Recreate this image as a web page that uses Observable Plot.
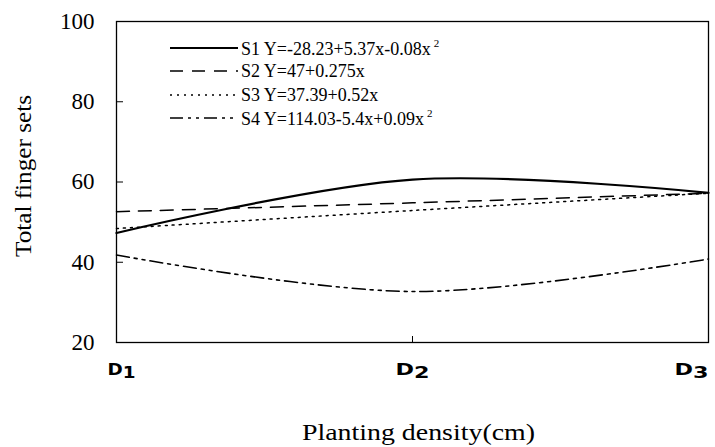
<!DOCTYPE html>
<html><head><meta charset="utf-8">
<script src="https://cdn.jsdelivr.net/npm/d3@7"></script>
<script src="https://cdn.jsdelivr.net/npm/@observablehq/plot@0.6"></script>
<style>
body{margin:0;background:#fff;}
#wrap{position:relative;width:715px;height:447px;}
#legend{position:absolute;left:170px;top:36px;font-family:"Liberation Serif";font-size:18px;color:#000;line-height:1;}
.row{height:23.5px;display:flex;align-items:center;white-space:nowrap;}
.row svg{width:70px;height:10px;margin-right:1px;}
.row sup{font-size:11px;vertical-align:8px;margin-left:3px;}
</style></head><body><div id="wrap"><div id="legend"></div></div>
<script>
const densities = ["D1", "D2", "D3"];
const seriesNames = ["S1", "S2", "S3", "S4"];
const s1 = [47.3, 60.6, 57.3];
const s2 = [52.6, 54.8, 57.2];
const s3 = [48.4, 52.9, 57.2];
const s4 = [41.8, 32.7, 40.8];
const eqMain = ["Y=-28.23+5.37x-0.08x", "Y=47+0.275x", "Y=37.39+0.52x", "Y=114.03-5.4x+0.09x"];
const eqSup = ["2", "", "", "2"];
const yTicks = [20, 40, 60, 80, 100];
const dashes = [null, "13,9", "2,5", "13,5,3,5,3,5"];
const widths = [2.2, 1.5, 1.5, 1.6];

const values = [s1, s2, s3, s4];
const rows = seriesNames.flatMap((s, i) => densities.map((d, j) => ({series: s, density: d, value: values[i][j]})));

const chart = Plot.plot({
  width: 715, height: 447,
  marginLeft: 116, marginRight: 7, marginTop: 21, marginBottom: 105,
  style: {fontFamily: "Liberation Serif", fontSize: "23px", background: "#fff", color: "#000"},
  x: {type: "point", domain: densities, padding: 0},
  y: {domain: [20, 100]},
  marks: [
    Plot.frame({stroke: "#000", strokeWidth: 1.3}),
    Plot.axisY({ticks: yTicks, tickSize: -7, tickPadding: 29, fontSize: 23, label: "Total finger sets", labelAnchor: "center", labelArrow: "none", labelOffset: 103}),
    Plot.axisX({tickSize: -6, tickPadding: 27, fontSize: 23, label: "Planting density(cm)", labelAnchor: "center", labelArrow: "none", labelOffset: 97}),
    ...seriesNames.map((s, i) => Plot.line(rows.filter(r => r.series === s), {
      x: "density", y: "value", curve: "catmull-rom", stroke: "#000",
      strokeWidth: widths[i], strokeDasharray: dashes[i]
    }))
  ]
});
document.getElementById("wrap").prepend(chart);

const svgSel = d3.select(chart);
svgSel.selectAll('g[aria-label="y-axis tick label"] text')
  .style("font-family", '"Liberation Serif", serif').style("font-size", "23px");
svgSel.selectAll('g[aria-label="y-axis label"] text')
  .style("font-family", '"Liberation Serif", serif').style("font-size", "24px")
  .attr("dx", 6).attr("textLength", 162).attr("lengthAdjust", "spacingAndGlyphs");
svgSel.selectAll('g[aria-label="x-axis label"] text')
  .style("font-family", '"Liberation Serif", serif').style("font-size", "24px")
  .attr("dx", 6).attr("textLength", 233).attr("lengthAdjust", "spacingAndGlyphs");

// x tick labels: anchored at the edges, wide squarish glyphs, lowered digit
const anchors = ["start", "middle", "end"];
const shifts = [-9, 0, 0];
svgSel.selectAll('g[aria-label="x-axis tick label"] text').each(function(d, i) {
  const t = d3.select(this);
  const txt = t.text();
  t.text(txt[0]).attr("text-anchor", anchors[i]).attr("dx", shifts[i])
    .style("font-family", '"DejaVu Sans"').style("font-weight", "900").style("font-size", "16px");
  t.append("tspan").attr("dy", 3).text(txt.slice(1));
  t.attr("textLength", i === 0 ? 28 : 34).attr("lengthAdjust", "spacingAndGlyphs");
});

// legend
const leg = d3.select("#legend");
seriesNames.forEach((s, i) => {
  const row = leg.append("div").attr("class", "row");
  const svg = row.append("svg");
  svg.append("line").attr("x1", 0).attr("x2", 68).attr("y1", 5).attr("y2", 5)
    .attr("stroke", "#000").attr("stroke-width", widths[i]).attr("stroke-dasharray", dashes[i]);
  const sp = row.append("span").text(s + " " + eqMain[i]);
  if (eqSup[i]) sp.append("sup").text(eqSup[i]);
});
</script></body></html>
